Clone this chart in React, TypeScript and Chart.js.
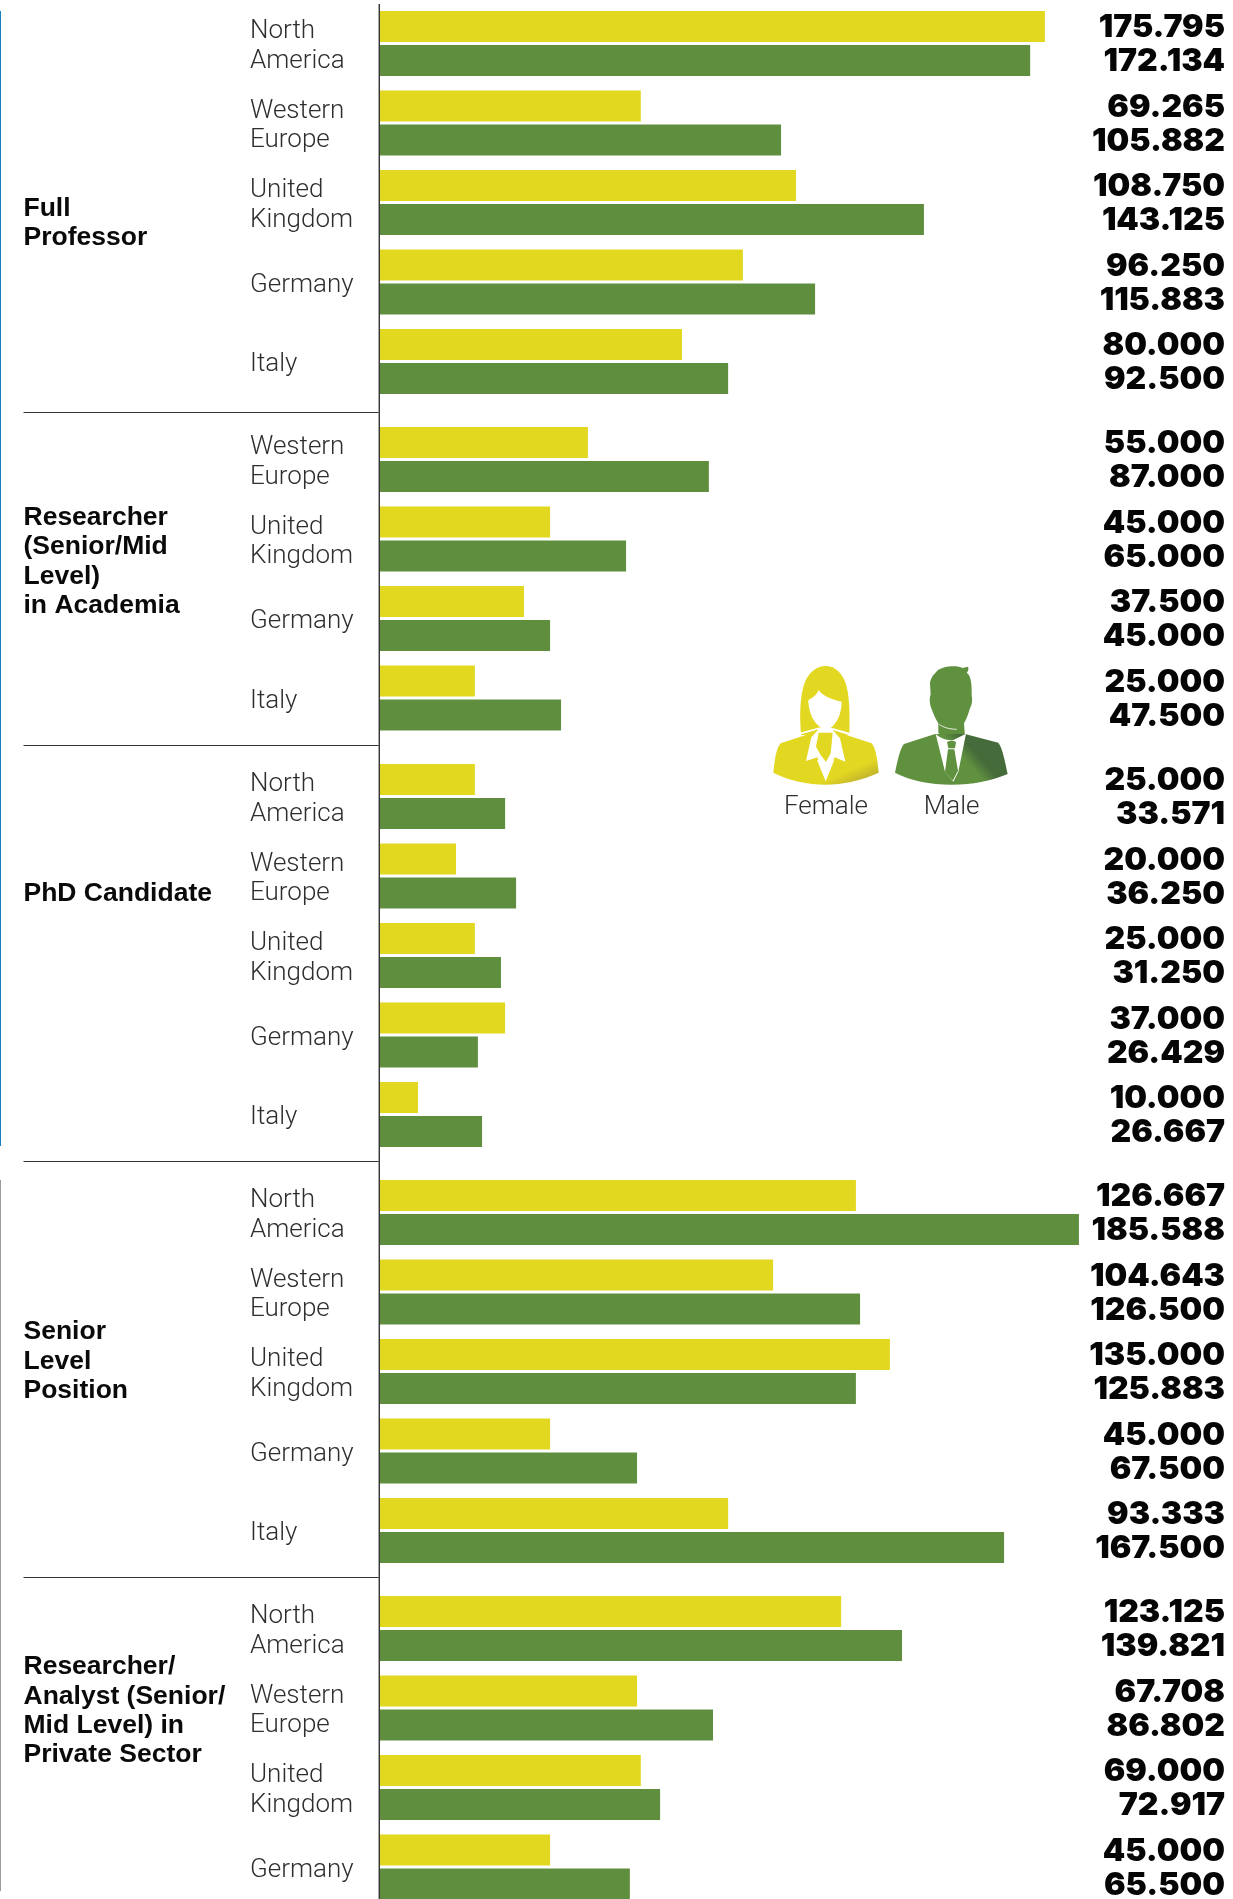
import React, { useEffect, useRef } from "react";
import Chart from "chart.js/auto";

// Row names
const regionsFive = [["North", "America"], ["Western", "Europe"], ["United", "Kingdom"], "Germany", "Italy"];
const regionsNoNorth = [["Western", "Europe"], ["United", "Kingdom"], "Germany", "Italy"];
const regionsNoItaly = [["North", "America"], ["Western", "Europe"], ["United", "Kingdom"], "Germany"];

// Group titles
const titleFull = ["Full", "Professor"];
const titleResearcher = ["Researcher", "(Senior/Mid", "Level)", "in Academia"];
const titlePhd = ["PhD Candidate"];
const titleSenior = ["Senior", "Level", "Position"];
const titleAnalyst = ["Researcher/", "Analyst (Senior/", "Mid Level) in", "Private Sector"];

// Bar lengths, in thousands
const femaleFull = [175.9, 69.0, 110.05, 96.0, 79.9];
const maleFull = [172.0, 106.1, 143.9, 115.1, 92.1];
const femaleResearcher = [55.0, 45.0, 38.1, 25.1];
const maleResearcher = [87.0, 65.1, 45.0, 47.9];
const femalePhd = [25.1, 20.1, 25.1, 33.1, 10.05];
const malePhd = [33.1, 36.0, 32.0, 25.9, 27.0];
const femaleSenior = [125.9, 104.0, 134.9, 45.0, 92.1];
const maleSenior = [184.9, 127.0, 125.9, 68.0, 165.1];
const femaleAnalyst = [122.0, 68.0, 69.0, 45.0];
const maleAnalyst = [138.1, 88.1, 74.1, 66.1];

// Printed figures
const femaleFullText = ["175.795", "69.265", "108.750", "96.250", "80.000"];
const maleFullText = ["172.134", "105.882", "143.125", "115.883", "92.500"];
const femaleResearcherText = ["55.000", "45.000", "37.500", "25.000"];
const maleResearcherText = ["87.000", "65.000", "45.000", "47.500"];
const femalePhdText = ["25.000", "20.000", "25.000", "37.000", "10.000"];
const malePhdText = ["33.571", "36.250", "31.250", "26.429", "26.667"];
const femaleSeniorText = ["126.667", "104.643", "135.000", "45.000", "93.333"];
const maleSeniorText = ["185.588", "126.500", "125.883", "67.500", "167.500"];
const femaleAnalystText = ["123.125", "67.708", "69.000", "45.000"];
const maleAnalystText = ["139.821", "86.802", "72.917", "65.500"];

const YELLOW = "#e2d820";
const GREEN = "#5f8f3e";
const ROW_H = 79.5;
const AXIS_X = 380;
const X_MAX = (1233 - AXIS_X) / 3.78;

const groups = [
  { top: 0, h: 413, padTop: 3.75, title: titleFull, titleY: 223, rule: true, regions: regionsFive, f: femaleFull, m: maleFull, ft: femaleFullText, mt: maleFullText, lineFrom: 4 },
  { top: 413, h: 333, padTop: 6.75, title: titleResearcher, titleY: 561.5, rule: true, regions: regionsNoNorth, f: femaleResearcher, m: maleResearcher, ft: femaleResearcherText, mt: maleResearcherText, lineFrom: 0 },
  { top: 746, h: 416, padTop: 10.75, title: titlePhd, titleY: 894, rule: true, regions: regionsFive, f: femalePhd, m: malePhd, ft: femalePhdText, mt: malePhdText, lineFrom: 0 },
  { top: 1162, h: 416, padTop: 10.75, title: titleSenior, titleY: 1361.5, rule: true, regions: regionsFive, f: femaleSenior, m: maleSenior, ft: femaleSeniorText, mt: maleSeniorText, lineFrom: 0 },
  { top: 1578, h: 329, padTop: 10.75, title: titleAnalyst, titleY: 1711, rule: false, regions: regionsNoItaly, f: femaleAnalyst, m: maleAnalyst, ft: femaleAnalystText, mt: maleAnalystText, lineFrom: 0 },
];

function GroupChart({ g }: { g: (typeof groups)[number] }) {
  const ref = useRef<HTMLCanvasElement | null>(null);
  useEffect(() => {
    const furniture = {
      id: "furniture",
      beforeDraw(chart: any) {
        // nudge the category labels down to sit where the reference has them
        const yScale = chart.scales.y;
        yScale.getLabelItems(chart.chartArea).forEach((item: any) => {
          item.options.translation[1] += 3;
        });
      },
      afterDraw(chart: any) {
        const c = chart.ctx;
        c.save();
        // axis line
        c.fillStyle = "#222222";
        c.fillRect(AXIS_X - 1.4, g.lineFrom, 1.3, g.h - g.lineFrom);
        // separator rule
        if (g.rule) {
          c.fillStyle = "#333333";
          c.fillRect(23.5, g.h - 1, AXIS_X - 1.5 - 23.5, 1.6);
        }
        // group title
        c.fillStyle = "#0a0a0a";
        c.font = 'bold 26.5px "Liberation Sans"';
        c.textAlign = "left";
        c.textBaseline = "middle";
        const lh = 29.4;
        g.title.forEach((t, i) => {
          c.fillText(t, 23.5, g.titleY - g.top + (i - (g.title.length - 1) / 2) * lh);
        });
        // value figures
        c.fillStyle = "#050505";
        c.font = '900 32px "Inter"';
        c.textAlign = "right";
        [g.ft, g.mt].forEach((texts, di) => {
          const meta = chart.getDatasetMeta(di);
          texts.forEach((t, i) => {
            c.fillText(t, 1225, meta.data[i].y + 1);
          });
        });
        c.restore();
      },
    };
    const chart = new Chart(ref.current as HTMLCanvasElement, {
      type: "bar",
      data: {
        labels: g.regions as any,
        datasets: [
          { label: "Female", data: g.f, backgroundColor: YELLOW, categoryPercentage: 68 / ROW_H, barPercentage: 31 / 34 },
          { label: "Male", data: g.m, backgroundColor: GREEN, categoryPercentage: 68 / ROW_H, barPercentage: 31 / 34 },
        ],
      },
      options: {
        indexAxis: "y",
        animation: false,
        responsive: false,
        maintainAspectRatio: false,
        devicePixelRatio: 1,
        layout: { padding: { left: 250, right: 0, top: g.padTop, bottom: g.h - g.padTop - g.regions.length * ROW_H } },
        plugins: { legend: { display: false }, tooltip: { enabled: false } },
        scales: {
          x: { display: false, min: 0, max: X_MAX },
          y: {
            afterFit(scale: any) {
              scale.width = AXIS_X - 250;
              scale.paddingTop = 0;
              scale.paddingBottom = 0;
            },
            grid: { display: false },
            border: { display: false },
            ticks: {
              autoSkip: false,
              crossAlign: "far",
              color: "#2e2e2e",
              padding: 0,
              font: { family: "Roboto", weight: "300", size: 26, lineHeight: 1.14 },
            },
          },
        },
      } as any,
      plugins: [furniture as any],
    });
    return () => chart.destroy();
  }, [g]);
  return <canvas ref={ref} width={1233} height={g.h} style={{ position: "absolute", left: 0, top: g.top, width: 1233, height: g.h }} />;
}

function LegendIcons() {
  return (
    <svg viewBox="0 0 900 570" width={300} height={190} style={{ position: "absolute", left: 740, top: 640 }}>
      <defs>
        <linearGradient id="fg" x1="0.45" y1="0.35" x2="1" y2="1">
          <stop offset="0.55" stopColor="#e3d821" />
          <stop offset="1" stopColor="#a89a34" />
        </linearGradient>
        <linearGradient id="mg" x1="0.3" y1="0.5" x2="0.8" y2="0.3">
          <stop offset="0.55" stopColor="#5f913f" />
          <stop offset="0.8" stopColor="#466b3a" />
        </linearGradient>
      </defs>
      {/* female */}
      <path d="M183 285 C178 220 180 165 195 125 C210 92 235 78 255 78 C285 78 310 100 320 140 C330 180 329 240 328 285 Z" fill="#e3d821" />
      <path d="M100 398 C104 360 108 325 122 310 L237 272 L280 272 L395 310 C408 325 412 360 416 398 C365 422 305 434 257 434 C205 434 145 422 100 398 Z" fill="url(#fg)" />
      <path d="M205 180 C220 172 230 165 236 150 C245 165 270 178 305 185 C305 225 285 266 258 266 C230 266 205 225 205 180 Z" fill="#fff" />
      <path d="M124 300 L236 268 L214 292 L198 363 L232 352 L256 418 L284 352 L316 365 L300 295 L278 270 L392 305 L395 298 L270 262 L240 262 L120 294 Z" fill="#fff" />
      <path d="M236 278 L278 278 L272 340 L258 366 L242 345 L228 320 Z" fill="#e3d821" />
      <path d="M257 424 L232 362 L240 352 L258 372 L274 352 L282 362 Z" fill="#fff" />
      {/* male */}
      <path d="M570 130 C572 110 585 100 592 92 C610 78 650 75 668 84 L684 80 C688 88 682 96 680 98 C692 105 696 130 695 165 C698 180 696 195 690 205 C684 225 678 240 672 250 L675 290 L640 300 L595 280 L595 250 C585 235 578 215 574 205 C568 190 568 170 572 165 Z" fill="#5f913f" />
      <path d="M598 253 C610 262 625 267 650 268" stroke="#fff" strokeWidth="2.5" fill="none" />
      <path d="M465 398 C472 365 480 325 492 312 L585 282 L675 282 L775 308 C788 325 795 365 803 402 C750 424 700 434 635 434 C570 434 510 422 465 398 Z" fill="url(#mg)" />
      <path d="M587 282 C600 295 625 303 640 300 L678 281 L655 395 L640 425 L615 395 Z" fill="#fff" />
      <path d="M621 306 C630 301 640 301 648 306 L645 325 L625 325 Z" fill="#5f913f" />
      <path d="M624 328 L643 328 L654 392 L638 422 L615 396 Z" fill="#5f913f" />
      <text x="258" y="522" textAnchor="middle" fontFamily="Roboto" fontWeight="300" fontSize="78" fill="#2e2e2e">Female</text>
      <text x="635" y="522" textAnchor="middle" fontFamily="Roboto" fontWeight="300" fontSize="78" fill="#2e2e2e">Male</text>
    </svg>
  );
}

export default function App() {
  return (
    <div style={{ position: "absolute", left: 0, top: 0, width: 1233, height: 1899, overflow: "hidden", background: "#fff" }}>
      {groups.map((g, i) => <GroupChart key={i} g={g} />)}
      <div style={{ position: "absolute", left: 0, top: 11, width: 1.3, height: 1135, background: "#1b7fc4" }} />
      <div style={{ position: "absolute", left: 0, top: 1180, width: 1.3, height: 711, background: "#9a9a9a" }} />
      <LegendIcons />
    </div>
  );
}
